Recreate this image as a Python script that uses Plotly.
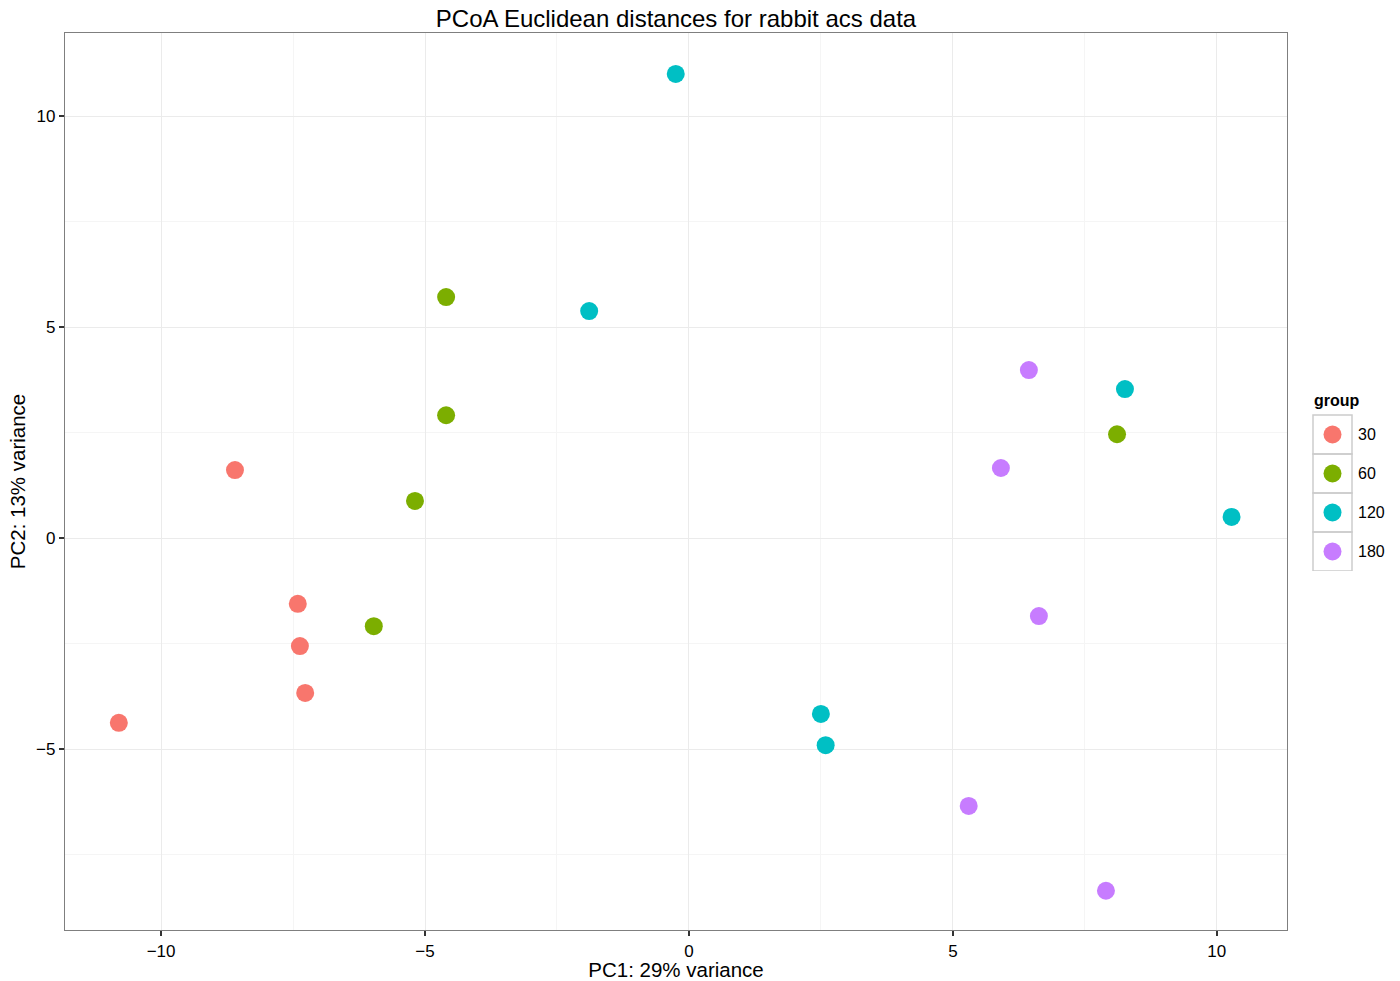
import plotly.graph_objects as go

groups = ["30", "60", "120", "180"]
colors = ["#F8766D", "#7CAE00", "#00BFC4", "#C77CFF"]

pc1_30 = [-8.60, -7.41, -7.37, -7.27, -10.80]
pc2_30 = [1.61, -1.56, -2.56, -3.67, -4.38]
pc1_60 = [-4.60, -4.60, -5.19, -5.97, 8.11]
pc2_60 = [5.71, 2.91, 0.88, -2.09, 2.46]
pc1_120 = [-0.25, -1.89, 8.26, 10.28, 2.50, 2.59]
pc2_120 = [11.00, 5.38, 3.53, 0.50, -4.17, -4.91]
pc1_180 = [6.44, 5.91, 6.63, 5.30, 7.90]
pc2_180 = [3.98, 1.66, -1.85, -6.35, -8.36]

xs = [pc1_30, pc1_60, pc1_120, pc1_180]
ys = [pc2_30, pc2_60, pc2_120, pc2_180]

W, H = 1400, 981
ml, mr, mt, mb = 65, 0, 33, 51
pw = W - ml - mr
ph = H - mt - mb
def px(xp):
    return (xp - ml) / pw
def py(yp):
    return (H - mb - yp) / ph

fig = go.Figure()
for g, c, x, y in zip(groups, colors, xs, ys):
    fig.add_trace(go.Scatter(x=x, y=y, mode="markers", name=g,
                             marker=dict(color=c, size=18, line=dict(width=0)),
                             showlegend=False, xaxis="x", yaxis="y"))

# legend drawn on an auxiliary axis (one unit = one key box of 39 px)
key = 39
pad = 0.3
idx = list(range(len(groups)))
fig.add_trace(go.Scatter(x=[0.5] * len(groups), y=idx, mode="markers",
                         marker=dict(color=colors, size=18, line=dict(width=0)),
                         showlegend=False, xaxis="x2", yaxis="y2", hoverinfo="skip"))
for i, g in enumerate(groups):
    fig.add_shape(type="rect", xref="x2", yref="y2", x0=0, x1=1, y0=i - 0.5, y1=i + 0.5,
                  line=dict(color="#cccccc", width=1.5), fillcolor="rgba(0,0,0,0)", layer="below")
    fig.add_annotation(xref="x2", yref="y2", x=1.1, y=i, text=g, showarrow=False,
                       xanchor="left", yanchor="middle",
                       font=dict(size=16, color="#000000"))
fig.add_annotation(xref="x2", yref="y2", x=-0.02, y=-0.88, text="<b>group</b>", showarrow=False,
                   xanchor="left", yanchor="middle", font=dict(size=16, color="#000000"))

axis_common = dict(showline=True, mirror=True, linecolor="#7f7f7f", linewidth=1.2,
                   gridcolor="#ebebeb", gridwidth=1, zeroline=False,
                   tickmode="linear", tick0=0, dtick=5,
                   ticks="outside", ticklen=5, tickwidth=2, tickcolor="#333333",
                   tickfont=dict(size=17, color="#000000"),
                   minor=dict(showgrid=True, tick0=0, dtick=2.5, gridcolor="#f5f5f5", gridwidth=1,
                              ticks=""))

fig.update_layout(
    width=W, height=H,
    margin=dict(l=ml, r=mr, t=mt, b=mb),
    paper_bgcolor="white", plot_bgcolor="white",
    font=dict(family="Liberation Sans, Arial, sans-serif", color="#000000"),
    title=dict(text="PCoA Euclidean distances for rabbit acs data", xref="paper", x=px(676),
               xanchor="center", yref="container", y=1 - 19 / H, yanchor="middle",
               font=dict(size=24, color="#000000")),
    xaxis=dict(domain=[0, px(1287)], range=[-11.82, 11.33],
               title=dict(text="PC1: 29% variance", font=dict(size=20.5), standoff=2),
               **axis_common),
    yaxis=dict(domain=[0, 1], range=[-9.29, 11.97],
               title=dict(text="PC2: 13% variance", font=dict(size=20.5), standoff=4),
               **axis_common),
    xaxis2=dict(domain=[px(1313 - pad * key), 1.0], range=[-pad, (W - 1313) / key],
                visible=False, fixedrange=True),
    yaxis2=dict(domain=[py(571), py(415 - key)], range=[3.5, -1.5], visible=False, fixedrange=True),
)

fig.write_html("out.html")
